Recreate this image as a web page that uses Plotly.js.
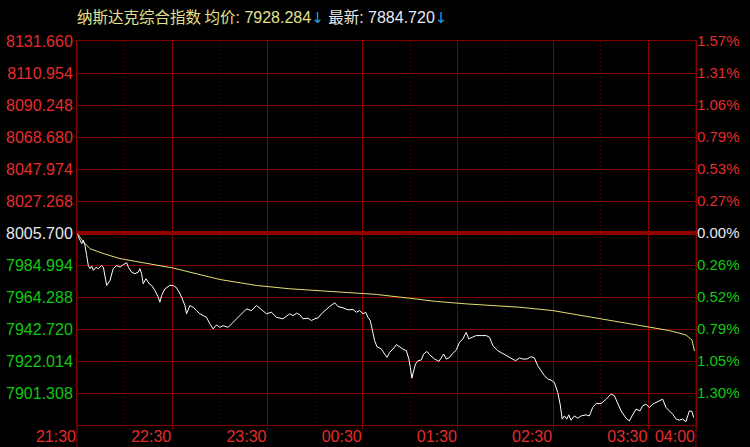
<!DOCTYPE html>
<html>
<head>
<meta charset="utf-8">
<script src="https://cdn.plot.ly/plotly-3.0.1.min.js"></script>
<style>
  html, body { margin:0; padding:0; background:#000; }
  #chart { width:750px; height:447px; }
</style>
</head>
<body>
<div id="chart"></div>
<script>
// ---- data (minutes after 21:30, index value) ----
const priceMinutes = [0,1.9,3,4,5,6.1,7.1,8.2,9.3,10.3,12,13.4,15.5,16.6,17.6,18.7,20.8,22.8,25,27.1,29.1,31.3,32.3,34.4,36.5,38.6,39.6,40.7,41.7,43.4,45.5,47,49.1,51.2,52.2,53.3,55.4,58.5,60.6,62.3,63.8,65.9,68,69,71.1,73.2,75.3,77.4,79.5,81.6,83.7,85.8,87.9,90,92.1,95.2,97.4,100.5,103.7,106.8,109.9,113.1,116.2,119.4,122.5,125.7,129.8,134,136.1,138.3,140.3,142.4,145.6,147.7,149.8,151.9,154,156.1,159.2,162.4,164.4,167.6,170.7,173.9,176,178.1,180.2,181.9,183.3,184.8,186.5,187.5,189,191.8,193.8,195.3,197,199.1,201.2,203.3,205.3,207.5,209.1,210,211,212.1,213.3,214.8,216.9,218.4,220.5,222.1,223.9,225.3,226.4,228,229.5,231,232.7,234.3,236.4,239,241,243.1,245.2,246.9,249,251.5,254.7,257.8,259.9,262,265.1,268.3,271.4,274.2,276.3,278.8,280.9,283.4,286.2,288.2,290.3,292.4,294.5,296.6,298.7,300.8,302.9,304.4,305.7,307.1,308.6,309.8,311.3,313.4,315.5,317.6,320.8,322.8,324.9,327.1,330.2,333.4,336.5,338.6,340.7,342.8,345.9,348,349.7,352.2,354.7,356.4,358.5,360.6,362.7,364.8,366.9,369,371.1,373.2,375.3,377.5,379.5,381.6,383.7,385.8,387.5,388.5];
const priceValues = [8005.0,8000.9,7998.7,8000.9,7997.6,7991.0,7984.4,7982.3,7984.0,7981.2,7983.3,7982.3,7984.4,7983.3,7977.9,7971.3,7974.6,7982.3,7984.4,7983.3,7984.9,7986.2,7983.3,7980.0,7979.0,7980.0,7982.3,7979.0,7972.4,7975.7,7972.4,7971.3,7968.0,7963.6,7960.3,7964.7,7969.1,7971.3,7971.3,7970.2,7968.0,7963.6,7958.1,7952.7,7958.1,7957.0,7954.8,7952.7,7951.5,7950.4,7946.1,7942.8,7945.4,7943.8,7944.9,7943.8,7946.1,7949.4,7952.7,7955.9,7954.8,7958.1,7955.5,7952.7,7953.7,7950.4,7949.4,7952.7,7951.5,7953.1,7952.2,7949.4,7949.8,7948.3,7949.4,7950.0,7952.7,7954.8,7957.5,7959.9,7957.5,7956.6,7955.3,7955.5,7953.7,7954.8,7952.7,7953.7,7950.4,7948.2,7940.5,7935.1,7931.1,7929.6,7926.3,7924.1,7927.4,7929.6,7932.5,7930.7,7929.6,7928.5,7923.0,7917.5,7910.5,7915.3,7919.8,7921.9,7922.4,7926.3,7928.0,7925.9,7924.1,7923.0,7922.4,7921.5,7923.7,7926.3,7923.0,7923.7,7926.3,7929.0,7934.0,7936.2,7940.5,7936.2,7937.3,7938.4,7938.4,7938.4,7937.3,7931.8,7928.5,7926.7,7924.6,7923.0,7921.9,7923.7,7923.0,7923.0,7924.6,7923.7,7918.6,7915.3,7912.1,7909.9,7909.2,7907.6,7901.1,7893.4,7883.6,7885.7,7883.6,7886.4,7882.9,7885.7,7884.2,7885.7,7886.4,7885.7,7891.2,7893.8,7893.8,7896.7,7900.0,7898.9,7894.5,7889.0,7884.2,7882.4,7885.7,7890.1,7889.0,7892.3,7893.4,7891.2,7893.4,7894.5,7895.6,7896.7,7891.2,7889.0,7886.8,7883.6,7882.9,7883.6,7882.0,7889.0,7888.6,7884.7];
const avgMinutes = [0,4,8.2,16.4,27.1,48,60.6,90,113.1,134,155,173.9,188.6,209.6,226.4,245.2,264.1,278.8,299.8,324.9,345.9,360.6,373.2,383.7,387.5,389];
const avgValues  = [8005.7,7999.8,7995.4,7992.3,7988.9,7984.9,7982.7,7975.2,7971.3,7969.1,7967.5,7966.5,7965.4,7962.9,7960.8,7959.2,7958.1,7957.0,7954.8,7950.4,7946.7,7943.8,7941.7,7938.8,7935.5,7928.3];

const xTickMinutes = [0,60,120,180,240,300,360,390];
const xTickLabels  = ['21:30','22:30','23:30','00:30','01:30','02:30','03:30','04:00'];
const halfHourMinutes = [30,90,150,210,270,330];

const priceLabels = ['8131.660','8110.954','8090.248','8068.680','8047.974','8027.268','8005.700','7984.994','7964.288','7942.720','7922.014','7901.308'];
const pctLabels   = ['1.57%','1.31%','1.06%','0.79%','0.53%','0.27%','0.00%','0.26%','0.52%','0.79%','1.05%','1.30%'];
const prevClose = 8005.700;
const topValue  = 8131.660;
const avgPrice  = '7928.284';
const lastPrice = '7884.720';
const indexName = '纳斯达克综合指数';

// ---- styles ----
const RED = '#e52b2b', GREEN = '#10c810', WHITE = '#e6e8f0';
const GRID = '#820000';
const FONT = 'Arial, Liberation Sans, sans-serif';
const step = (topValue - prevClose) / 6;
const yTickVals = priceLabels.map((_, i) => prevClose + (6 - i) * step);
const yRange = [prevClose - 6 * step, topValue];
function colorFor(i) { return i < 6 ? RED : (i === 6 ? WHITE : GREEN); }
const leftText  = priceLabels.map((t, i) => `<span style="color:${colorFor(i)}">${t}</span>`);
const rightText = pctLabels.map((t, i) => `<span style="color:${colorFor(i)}">${t}</span>`);

const traces = [
  { x: avgMinutes, y: avgValues, type: 'scatter', mode: 'lines',
    line: { color: '#e4e070', width: 1 }, hoverinfo: 'skip' },
  { x: priceMinutes, y: priceValues, type: 'scatter', mode: 'lines',
    line: { color: '#ffffff', width: 1 }, hoverinfo: 'skip' },
  { x: priceMinutes, y: priceValues, type: 'scatter', mode: 'lines', yaxis: 'y2',
    line: { color: 'rgba(0,0,0,0)', width: 0 }, hoverinfo: 'skip' }
];

const CJK = "'Noto Sans CJK SC'";
const ARROW = `<span style="font-family:'DejaVu Sans';font-size:15px;color:#1ea0d8">↓</span>`;
const titleText =
  `<span style="font-family:${CJK};font-size:15.5px;color:#e2e08c">${indexName} 均价</span>` +
  `<span style="color:#e2e08c">: ${avgPrice}</span>${ARROW} ` +
  `<span style="font-family:${CJK};font-size:15.5px;color:#e8e8e8">最新</span>` +
  `<span style="color:#e8e8f4">: ${lastPrice}</span>${ARROW}`;

const layout = {
  width: 750, height: 447,
  paper_bgcolor: '#000', plot_bgcolor: '#000',
  margin: { l: 77, r: 54, t: 41, b: 22, pad: 0 },
  showlegend: false, hovermode: false,
  font: { family: FONT, size: 16, color: RED },
  title: { text: titleText, font: { family: FONT, size: 16, color: '#e2e08c' },
           x: 0.1027, xref: 'container', xanchor: 'left', y: 0.962, yref: 'container', yanchor: 'middle' },
  xaxis: {
    range: [0, 390], tickmode: 'array', tickvals: xTickMinutes, ticktext: xTickLabels,
    showgrid: true, gridcolor: GRID, gridwidth: 1, zeroline: false,
    showline: true, linecolor: GRID, linewidth: 1, mirror: true,
    ticks: 'outside', ticklen: 4, tickcolor: GRID, tickwidth: 1,
    ticklabelposition: 'outside left', tickangle: 0, ticklabelstandoff: -3,
    tickfont: { family: FONT, size: 16, color: RED },
    minor: { tickmode: 'array', tickvals: halfHourMinutes, showgrid: true, gridcolor: GRID, griddash: '1px,3px', gridwidth: 1, ticks: '' },
    fixedrange: true
  },
  yaxis: {
    range: yRange, tickmode: 'array', tickvals: yTickVals, ticktext: leftText,
    showgrid: true, gridcolor: GRID, gridwidth: 1, zeroline: false,
    showline: true, linecolor: GRID, linewidth: 1, mirror: true, ticks: '',
    tickfont: { family: FONT, size: 16, color: RED },
    fixedrange: true
  },
  yaxis2: {
    overlaying: 'y', side: 'right', range: yRange, tickmode: 'array', tickvals: yTickVals, ticktext: rightText,
    showgrid: false, zeroline: false, showline: false, ticks: '',
    tickfont: { family: FONT, size: 15, color: RED },
    fixedrange: true
  },
  shapes: [
    { type: 'line', xref: 'paper', x0: 0, x1: 1, yref: 'y', y0: prevClose, y1: prevClose,
      line: { color: '#960000', width: 4 }, layer: 'below' },
    { type: 'line', xref: 'paper', x0: 0, x1: 0, yref: 'paper', y0: -0.06, y1: 1,
      line: { color: GRID, width: 1 } },
    { type: 'line', xref: 'paper', x0: 1, x1: 1, yref: 'paper', y0: -0.06, y1: 1,
      line: { color: GRID, width: 1 } }
  ]
};

Plotly.newPlot('chart', traces, layout, { staticPlot: true, displayModeBar: false });
</script>
</body>
</html>
